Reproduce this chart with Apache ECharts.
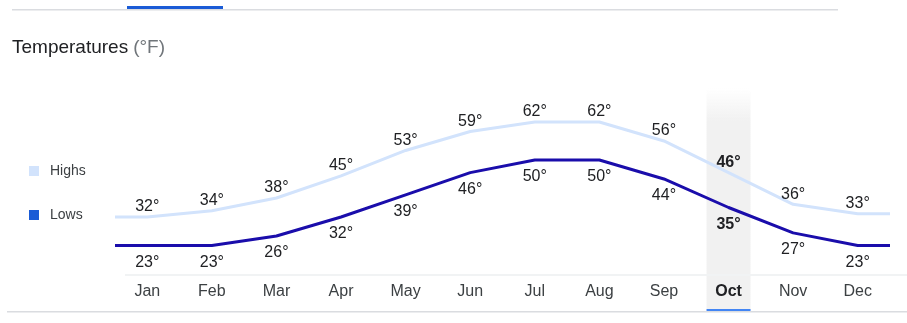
<!DOCTYPE html>
<html><head><meta charset="utf-8">
<script src="https://cdn.jsdelivr.net/npm/echarts@6/dist/echarts.min.js"></script>
<style>html,body{margin:0;padding:0;background:#fff}#c{width:907px;height:323px}</style>
</head><body><div id="c"></div>
<script>
const months = ['Jan','Feb','Mar','Apr','May','Jun','Jul','Aug','Sep','Oct','Nov','Dec'];
const highs = [32,34,38,45,53,59,62,62,56,46,36,33];
const lows = [23,23,26,32,39,46,50,50,44,35,27,23];
const selectedIndex = 9;
const FONT = '"Liberation Sans", Arial, sans-serif';

function build(vals){
  const d = [{value:[-0.5, vals[0]], label:{show:false}}];
  vals.forEach((v,i)=>d.push({value:[i,v], label: i===selectedIndex ? {fontWeight:'bold'} : {}}));
  d.push({value:[vals.length-0.5, vals[vals.length-1]], label:{show:false}});
  return d;
}

const chart = echarts.init(document.getElementById('c'), null, {renderer:'canvas'});
const option = {
  animation:false,
  title:{left:12, top:38, padding:0,
    text:'{a|Temperatures} {b|(°F)}',
    textStyle:{fontFamily:FONT, fontWeight:'normal', rich:{a:{fontSize:19,fontWeight:'normal',color:'#202124',fontFamily:FONT}, b:{fontSize:19,fontWeight:'normal',color:'#70757a',fontFamily:FONT}}}},
  legend:{orient:'vertical', left:29, top:164, padding:0, itemWidth:10, itemHeight:10, itemGap:30,
    textStyle:{fontSize:14, color:'#3c4043', fontFamily:FONT, padding:[0,0,0,6]},
    data:[{name:'Highs', icon:'rect', itemStyle:{color:'#d2e3fc'}},{name:'Lows', icon:'rect', itemStyle:{color:'#1a5bd6'}}]},
  grid:{left:115, right:17, top:95, bottom:48},
  xAxis:[
    {type:'category', data:months, boundaryGap:true, axisLine:{show:false}, axisTick:{show:false},
     axisLabel:{margin:9, fontSize:16, color:'#3c4043', fontFamily:FONT,
       formatter:(v,i)=> i===selectedIndex ? '{b|'+v+'}' : v,
       rich:{b:{fontWeight:'bold', fontSize:16, color:'#202124', fontFamily:FONT}}}},
    {type:'value', min:-0.5, max:months.length-0.5, show:false}
  ],
  yAxis:{type:'value', min:13.7, max:70.5, show:false},
  series:[
    {name:'Highs', type:'line', xAxisIndex:1, data:build(highs), symbol:'circle', symbolSize:0,
     itemStyle:{color:'#d2e3fc'}, lineStyle:{color:'#d2e3fc', width:3},
     label:{show:true, position:'top', distance:2, fontSize:16, color:'#202124', fontFamily:FONT, formatter:p=>p.value[1]+'°'}},
    {name:'Lows', type:'line', xAxisIndex:1, data:build(lows), symbol:'circle', symbolSize:0,
     itemStyle:{color:'#1a5bd6'}, lineStyle:{color:'#1a0dab', width:3},
     label:{show:true, position:'bottom', distance:9, fontSize:16, color:'#202124', fontFamily:FONT, formatter:p=>p.value[1]+'°'}}
  ]
};
chart.setOption(option);
const cx = chart.convertToPixel({xAxisIndex:1}, selectedIndex);
chart.setOption({graphic:[
  {type:'rect', z:-10, shape:{x:cx-22, y:88, width:44, height:222},
   style:{fill:new echarts.graphic.LinearGradient(0,0,0,1,[{offset:0,color:'rgba(241,241,241,0)'},{offset:0.15,color:'#f1f1f1'},{offset:1,color:'#f1f1f1'}])}},
  {type:'rect', shape:{x:cx-22, y:309, width:44, height:3}, style:{fill:'#4285f4'}},
  {type:'rect', shape:{x:12, y:9, width:826, height:1.5}, style:{fill:'#dadce0'}},
  {type:'rect', shape:{x:127, y:6, width:96, height:3}, style:{fill:'#1a5bd6'}},
  {type:'rect', z:-5, shape:{x:125, y:274, width:782, height:2}, style:{fill:'#f1f3f4'}},
  {type:'rect', shape:{x:7, y:311, width:900, height:1.5}, style:{fill:'#dadce0'}}
]});
</script>
</body></html>
